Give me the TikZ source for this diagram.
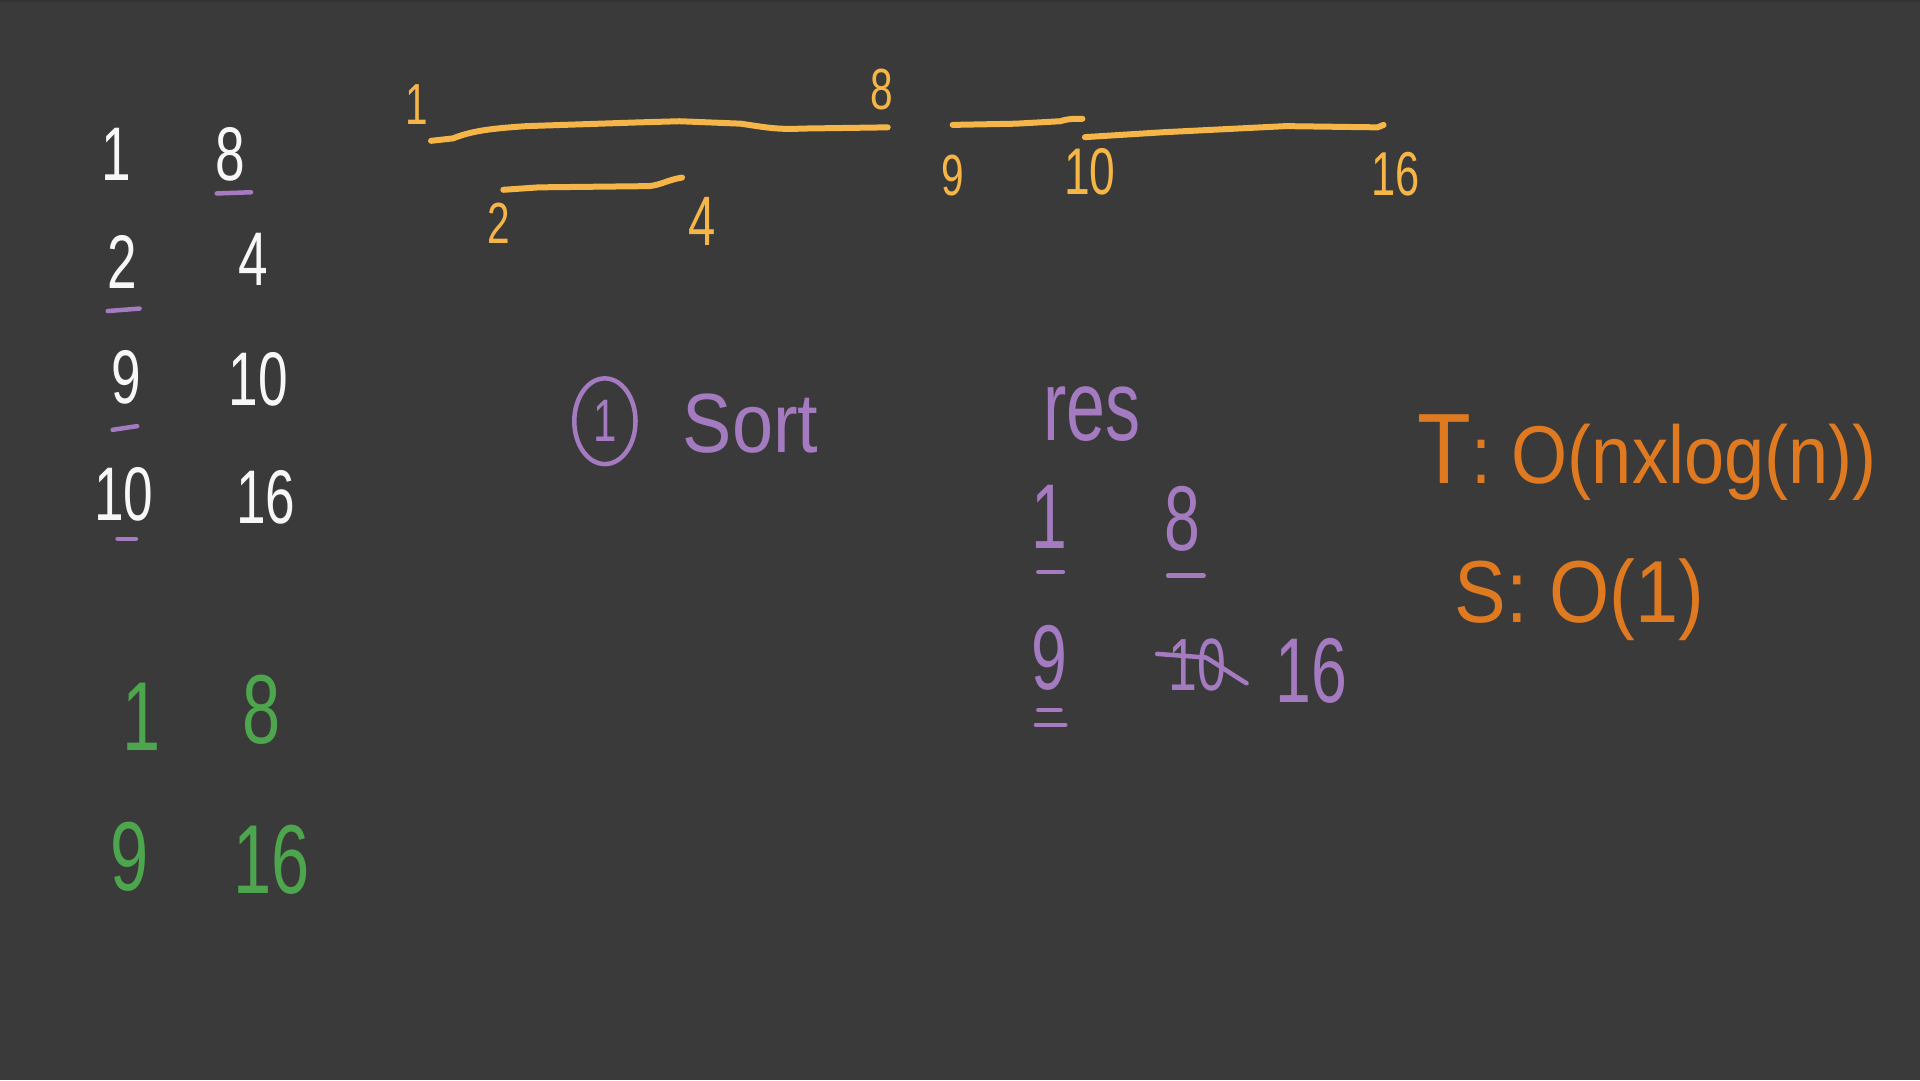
\documentclass[tikz,border=0pt]{standalone}
\usepackage{fontspec}
\setmainfont{Liberation Sans}
\newfontfamily\hw[FakeStretch=0.7]{Liberation Sans}
\newfontfamily\hwa[FakeStretch=0.88]{Liberation Sans}
\definecolor{board}{HTML}{3A3A3A}
\definecolor{inkwhite}{HTML}{F7F7F7}
\definecolor{inkpurple}{HTML}{A47BC0}
\definecolor{inkyellow}{HTML}{F5B547}
\definecolor{inkorange}{HTML}{E07A20}
\definecolor{inkgreen}{HTML}{4DA64D}
\begin{document}
\begin{tikzpicture}[x=1.2245pt,y=-1.2245pt,
  txt/.style={inner sep=0pt, outer sep=0pt},
  wdig/.style={txt, text=inkwhite, font=\hw\fontsize{76}{76}\selectfont},
  gdig/.style={txt, text=inkgreen, font=\hw\fontsize{98}{98}\selectfont},
  ydig/.style={txt, text=inkyellow, font=\hw\fontsize{58}{58}\selectfont},
  pdig/.style={txt, text=inkpurple, font=\hw\fontsize{92}{92}\selectfont},
  otxt/.style={txt, text=inkorange, anchor=base west, font=\hwa\fontsize{82}{82}\selectfont},
  pen/.style={line width=6pt, line cap=round, line join=round},
  thin pen/.style={line width=4.5pt, line cap=round, line join=round},
]
% board
\fill[board] (0,0) rectangle (1568,882);
\fill[black!80] (0,0) rectangle (1568,1.6);
\useasboundingbox (0,0) rectangle (1568,882);

% ---------- white list of intervals ----------
\node[wdig] (w1)  at (95,126)  {1};
\node[wdig] (w8)  at (188,126) {8};
\node[wdig] (w2)  at (100,214) {2};
\node[wdig] (w4)  at (207,212) {4};
\node[wdig] (w9)  at (103,308) {9};
\node[wdig] (w10) at (211,310) {10};
\node[wdig] (w10b) at (101,404) {10};
\node[wdig] (w16) at (217,406) {16};
\draw[inkpurple, thin pen] (177,158) -- (205,157);
\draw[inkpurple, thin pen] (88,254) -- (114,252);
\draw[inkpurple, thin pen] (92,351) -- (112,348);
\draw[inkpurple, thin pen] (96,440) -- (111,440);

% ---------- green merged result ----------
\node[gdig] (g1)  at (116,585) {1};
\node[gdig] (g8)  at (214,580) {8};
\node[gdig] (g9)  at (106,700) {9};
\node[gdig] (g16) at (222,702) {16};

% ---------- yellow number line ----------
\node[ydig] (y1)  at (340,85)  {1};
\node[ydig] (y8)  at (720,73)  {8};
\node[ydig] (y2)  at (407,182) {2};
\node[ydig, font=\hw\fontsize{70}{70}\selectfont] (y4) at (573,181) {4};
\node[ydig] (y9)  at (778,143) {9};
\node[ydig, font=\hw\fontsize{66}{66}\selectfont] (y10) at (890,140) {10};
\node[ydig, font=\hw\fontsize{62}{62}\selectfont] (y16) at (1140,142) {16};
\draw[inkyellow, pen] (352,115) -- (370,113) .. controls (385,107) and (400,105) .. (430,103)
  -- (520,100) -- (555,99) -- (605,101) .. controls (625,104) and (635,106) .. (655,105) -- (725,104);
\draw[inkyellow, pen] (411,155) -- (440,153) -- (530,152) .. controls (540,151) and (545,147) .. (557,145);
\draw[inkyellow, pen] (778,102) -- (830,101) -- (866,99) .. controls (872,97) and (876,97) .. (884,97);
\draw[inkyellow, pen] (886,112) -- (950,108) -- (1010,105) -- (1050,103) -- (1125,104) -- (1130,102);

% ---------- purple: step 1 sort ----------
\node[pdig, font=\hw\fontsize{60}{60}\selectfont] (c1) at (494,344) {1};
\draw[inkpurple, thin pen] (c1.center) ellipse [x radius=25, y radius=35];
\node[txt, text=inkpurple, font=\hwa\fontsize{84}{84}\selectfont] (sort) at (613,346) {Sort};

% ---------- purple: res ----------
\node[txt, text=inkpurple, font=\hw\fontsize{100}{100}\selectfont] (res) at (892,338) {res};
\node[pdig] (p1)  at (857,422) {1};
\node[pdig] (p8)  at (966,424) {8};
\node[pdig] (p9)  at (857,537) {9};
\node[pdig, font=\hw\fontsize{74}{74}\selectfont] (p10) at (978,543) {10};
\node[pdig] (p16) at (1071,548) {16};
\draw[inkpurple, thin pen] (945,534) -- (985,537) .. controls (998,545) and (1008,552) .. (1018,558);
\draw[inkpurple, thin pen] (848,467) -- (868,467);
\draw[inkpurple, thin pen] (954,470) -- (983,470);
\draw[inkpurple, thin pen] (848,580) -- (866,580);
\draw[inkpurple, thin pen] (846,592) -- (870,592);

% ---------- orange complexity ----------
\node[otxt] (tc) at (1158,395) {{\fontsize{100}{100}\selectfont T}: O(nxlog(n))};
\node[otxt, font=\hwa\fontsize{88}{88}\selectfont] (sc) at (1188,508) {S: O(1)};
\end{tikzpicture}
\end{document}
